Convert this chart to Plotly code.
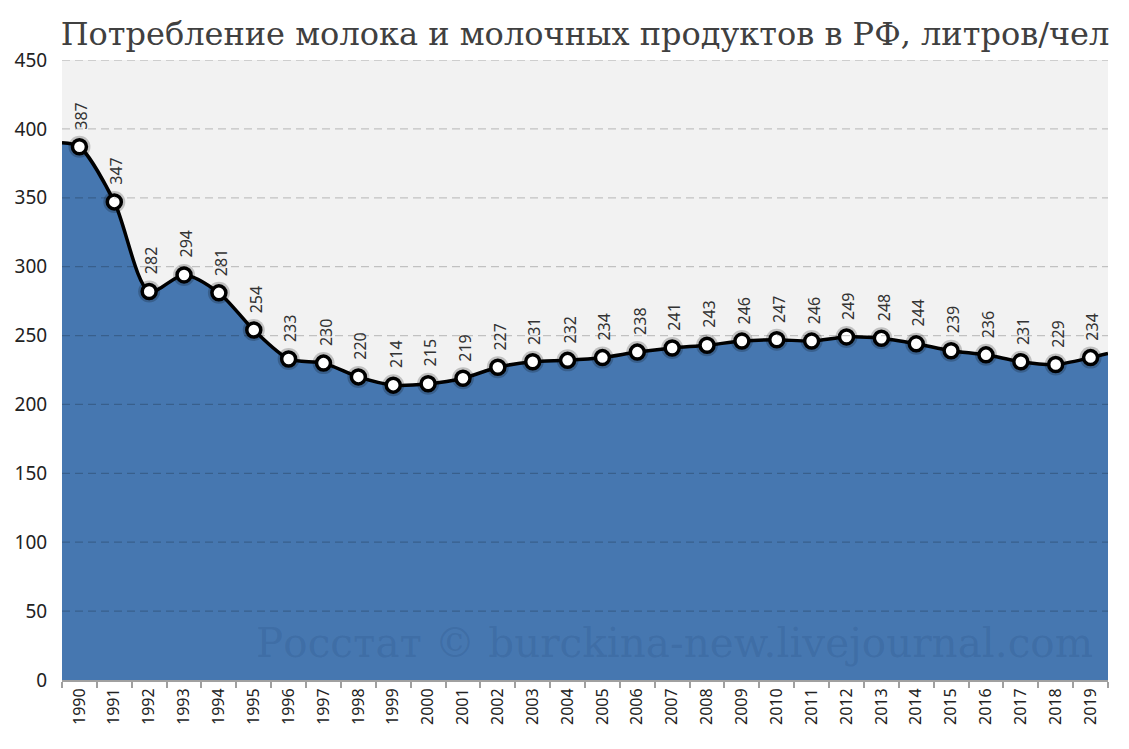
import plotly.graph_objects as go

years = list(range(1990, 2020))
milk = [387, 347, 282, 294, 281, 254, 233, 230, 220, 214,
        215, 219, 227, 231, 232, 234, 238, 241, 243, 246,
        247, 246, 249, 248, 244, 239, 236, 231, 229, 234]
# where the smoothed line meets the left and right plot edges
edge_left = 390
edge_right = 237
y_ticks = [0, 50, 100, 150, 200, 250, 300, 350, 400, 450]

title = "Потребление молока и молочных продуктов в РФ, литров/чел"
watermark = "Росстат © burckina-new.livejournal.com"

# the page adds an 8px body margin, so the figure is a bit smaller than the window
W, H = 1113, 733
ml, mr, mt, mb = 54, 13, 52, 61

x_lo, x_hi = years[0] - 0.5, years[-1] + 0.5

fig = go.Figure()

# area with black smoothed line to the plot edges
fig.add_trace(go.Scatter(
    x=[x_lo] + years + [x_hi],
    y=[edge_left] + milk + [edge_right],
    mode="lines",
    line=dict(color="black", width=3.5, shape="spline", smoothing=0.8),
    fill="tozeroy",
    fillcolor="#4677b0",
    hoverinfo="skip",
    showlegend=False,
))

# soft shadow under markers
fig.add_trace(go.Scatter(
    x=years, y=milk, mode="markers",
    marker=dict(size=22, color="rgba(0,0,0,0.2)", line=dict(width=0)),
    hoverinfo="skip", showlegend=False,
))

fig.add_trace(go.Scatter(
    x=years, y=milk, mode="markers",
    marker=dict(size=14, color="white", line=dict(color="black", width=3.5)),
    showlegend=False,
))

for x, v in zip(years, milk):
    fig.add_annotation(
        x=x, y=v, text=str(v), textangle=-90,
        showarrow=False, yanchor="bottom", yshift=15, xshift=2,
        font=dict(family="Noto Sans", size=16, color="#333333"),
    )

# dashed gridlines drawn over the fill, as in the original
for v in y_ticks[1:]:
    fig.add_hline(y=v, line=dict(color="rgba(0,0,0,0.2)", width=1.3, dash="8px,5px"),
                  layer="above")

fig.add_annotation(
    x=0.988, y=0.06, xref="paper", yref="paper",
    xanchor="right", yanchor="middle", showarrow=False,
    text=watermark,
    font=dict(family="DejaVu Serif", size=40.5, color="rgba(20,50,100,0.14)"),
)

fig.update_layout(
    width=W, height=H,
    margin=dict(l=ml, r=mr, t=mt, b=mb, autoexpand=False),
    paper_bgcolor="white",
    plot_bgcolor="#f2f2f2",
    title=dict(text=title, xref="paper", x=0.5, xanchor="center",
               y=0.965, yanchor="middle",
               font=dict(family="DejaVu Serif", size=32, color="#404040")),
    xaxis=dict(
        range=[x_lo, x_hi],
        tickmode="array", tickvals=years, ticktext=[str(y) for y in years],
        tickangle=-90, ticks="", showgrid=False, zeroline=False,
        showline=True, linecolor="#a0a0a0", linewidth=2,
        tickfont=dict(family="Noto Sans", size=16, color="#222222"),
        minor=dict(tick0=x_lo, dtick=1, ticks="outside", ticklen=6,
                   tickwidth=2, tickcolor="#a0a0a0", showgrid=False),
    ),
    yaxis=dict(
        range=[0, 450],
        tickmode="array", tickvals=y_ticks,
        showgrid=False, zeroline=False, showline=False,
        ticks="outside", ticklen=10, tickcolor="rgba(0,0,0,0)",
        tickfont=dict(family="Noto Sans", size=19, color="#222222"),
    ),
)

fig.write_html("out.html")
